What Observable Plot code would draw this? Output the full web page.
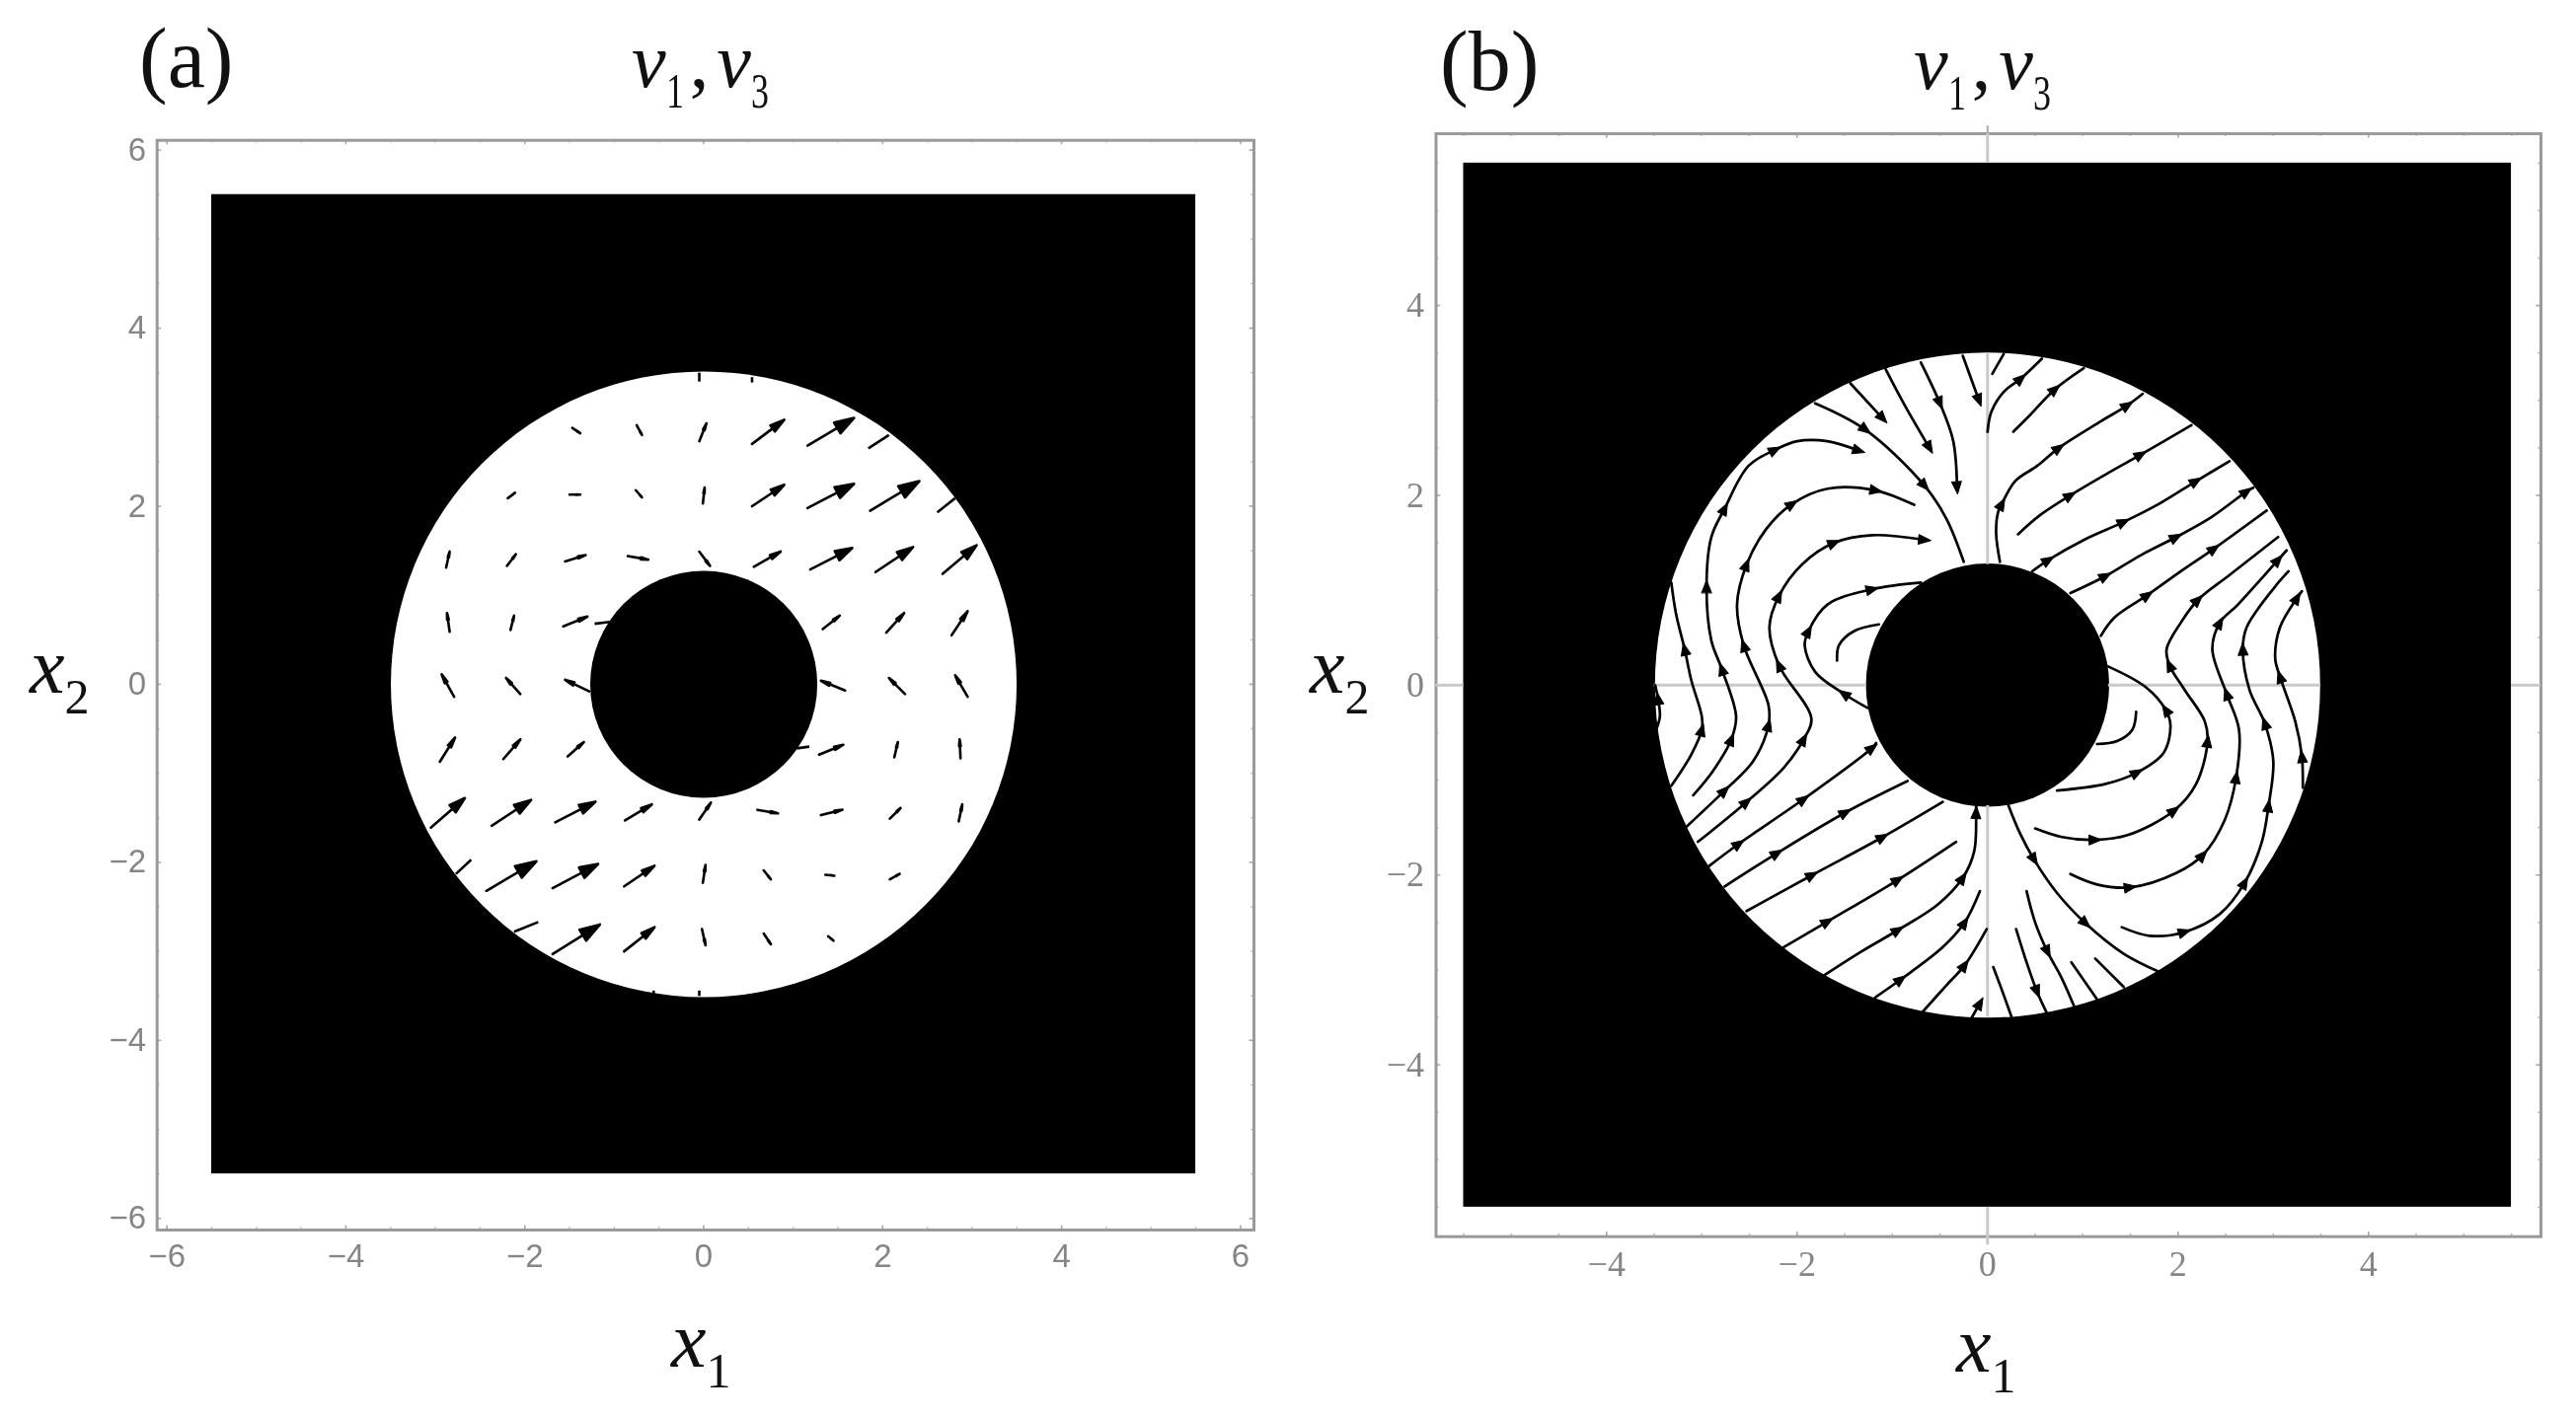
<!DOCTYPE html>
<html>
<head>
<meta charset="utf-8">
<script src="https://cdn.jsdelivr.net/npm/d3@7"></script>
<script src="https://cdn.jsdelivr.net/npm/@observablehq/plot@0.6"></script>
<style>
  html, body { margin: 0; padding: 0; background: #fff; }
  #page { position: relative; width: 2610px; height: 1437px; overflow: hidden; background: #fff; filter: blur(0.6px); }
  #page svg { position: absolute; top: 0; max-width: none; height: 1437px; background: transparent; }
  .t { position: absolute; font-family: "Liberation Serif", serif; line-height: 1; white-space: nowrap; color: #111; }
  .t i { font-style: italic; }
  .t span { font-size: 50px; vertical-align: -21px; }
  .t span.narrow { display: inline-block; width: 18px; transform: scaleX(0.72); transform-origin: left; }
  .t b { font-weight: 400; margin: 0 8px 0 6px; }
</style>
</head>
<body>
<div id="page"></div>
<script>
// ---------- shared values ----------
const squareHalf = 5.5;
const outerRadius = 3.5;
const innerRadius = 1.27;
const minorTicks = [-6,-5.5,-5,-4.5,-4,-3.5,-3,-2.5,-2,-1.5,-1,-0.5,0,0.5,1,1.5,2,2.5,3,3.5,4,4.5,5,5.5,6];
const ticksA = [-6,-4,-2,0,2,4,6];
const ticksB = [-4,-2,0,2,4];

// ---------- panel (a): arrows, [tailX, tailY, tipX, tipY] ----------
const arrowsA = [
  [-1.47,2.88,-1.38,2.82],[-0.75,2.91,-0.69,2.80],[-0.05,2.73,0.03,2.93],[0.54,2.70,0.90,2.97],[1.16,2.68,1.68,2.99],
  [-2.19,2.09,-2.11,2.15],[-1.50,2.13,-1.38,2.13],[-0.76,2.18,-0.69,2.10],[-0.01,2.03,0.01,2.21],[0.54,2.00,0.90,2.24],[1.16,1.98,1.68,2.25],[1.86,1.95,2.41,2.28],
  [-2.88,1.31,-2.84,1.49],[-2.20,1.33,-2.10,1.46],[-1.55,1.38,-1.32,1.45],[-0.85,1.44,-0.62,1.40],[-0.05,1.49,0.07,1.33],[0.56,1.32,0.86,1.49],[1.19,1.29,1.66,1.53],[1.92,1.26,2.34,1.54],[2.67,1.24,3.05,1.56],
  [-2.84,0.59,-2.87,0.80],[-2.16,0.61,-2.12,0.77],[-1.57,0.65,-1.30,0.76],[1.33,0.62,1.52,0.77],[2.04,0.58,2.24,0.80],[2.77,0.55,2.95,0.82],
  [-2.79,-0.14,-2.93,0.11],[-2.05,-0.11,-2.21,0.07],[-1.28,-0.08,-1.55,0.05],[1.58,-0.07,1.31,0.04],[2.25,-0.11,2.07,0.07],[2.95,-0.14,2.81,0.10],
  [-2.95,-0.87,-2.78,-0.60],[-2.24,-0.84,-2.05,-0.62],[-1.52,-0.81,-1.34,-0.65],[1.29,-0.79,1.56,-0.68],[2.13,-0.82,2.17,-0.65],[2.87,-0.83,2.86,-0.62],
  [-3.05,-1.61,-2.67,-1.28],[-2.37,-1.59,-1.93,-1.30],[-1.66,-1.55,-1.21,-1.32],[-0.88,-1.53,-0.58,-1.35],[-0.05,-1.52,0.08,-1.33],[0.60,-1.41,0.83,-1.45],[1.31,-1.47,1.55,-1.41],[2.08,-1.51,2.20,-1.39],[2.85,-1.54,2.89,-1.35],
  [-2.43,-2.32,-1.87,-1.99],[-1.69,-2.29,-1.18,-2.02],[-0.89,-2.27,-0.55,-2.04],[-0.01,-2.23,0.02,-2.03],[0.67,-2.09,0.75,-2.19],[1.36,-2.14,1.46,-2.15],[2.08,-2.19,2.19,-2.13],
  [-1.69,-3.03,-1.16,-2.70],[-0.89,-3.00,-0.55,-2.73],[-0.02,-2.75,0.02,-2.93],[0.67,-2.80,0.75,-2.92],[1.39,-2.83,1.45,-2.88]
];
// arrows cut by the black region: only the shaft shows
const cutArrowsA = [
  [1.84,2.65,2.07,2.80],[2.61,1.93,2.81,2.09],[-1.22,0.68,-1.05,0.70],[1.04,-0.72,1.18,-0.70],
  [-2.77,-2.13,-2.60,-1.97],[-2.12,-2.78,-1.85,-2.67],
  [-0.05,3.40,-0.05,3.50],[0.54,3.39,0.54,3.45],[-0.56,-3.44,-0.56,-3.49],[-0.05,-3.44,-0.05,-3.50]
];

// ---------- panel (b): streamlines, points in flow order, third value 1 marks an arrowhead ----------
const streamlines = [
  [[0.05,3.28],[0.17,3.49]],
  [[0,2.67],[0.04,2.88],[0.17,3.09],[0.35,3.23,1],[0.57,3.44]],
  [[0.27,2.67],[0.45,2.85],[0.71,3.12,1],[1.01,3.34]],
  [[0.13,1.30],[0.09,1.60],[0.11,1.82],[0.15,1.91,1],[0.29,2.15],[0.52,2.31],[0.75,2.50,1],[1.19,2.78],[1.47,2.95,1],[1.63,3.07]],
  [[0.32,1.59],[0.55,1.79],[0.87,2.00,1],[1.24,2.22],[1.61,2.43,1],[2.14,2.74]],
  [[0.47,1.20],[0.64,1.32,1],[1.01,1.53],[1.43,1.72,1],[1.80,1.91],[2.19,2.15,1],[2.54,2.36]],
  [[0.87,0.97],[1.24,1.15,1],[1.61,1.37],[1.98,1.56,1],[2.35,1.77],[2.72,2.04,1],[2.79,2.08]],
  [[1.19,0.52],[1.33,0.71],[1.68,0.95,1],[2.03,1.20],[2.38,1.44,1],[2.93,1.84]],
  [[0.73,-1.11],[1.24,-1.04],[1.57,-0.92,1],[1.85,-0.71],[1.92,-0.42],[1.87,-0.26,1],[1.66,-0.02],[1.26,0.20]],
  [[1.15,-0.62],[1.36,-0.59],[1.52,-0.47],[1.56,-0.28]],
  [[0.50,-1.51],[0.78,-1.60],[1.13,-1.63,1],[1.47,-1.58],[1.96,-1.32,1],[2.19,-1.04],[2.31,-0.59,1],[2.28,-0.38],[2.07,-0.05],[1.91,0.21,1],[1.88,0.38],[2.03,0.66],[2.21,0.90,1],[2.54,1.16],[3.05,1.56]],
  [[0.87,-1.99],[1.15,-2.10],[1.50,-2.13,1],[1.98,-1.98],[2.26,-1.79,1],[2.49,-1.42],[2.61,-0.97,1],[2.64,-0.47],[2.51,-0.09,1],[2.36,0.38],[2.44,0.66,1],[2.63,0.85],[3.05,1.32,1],[3.14,1.42]],
  [[1.41,-2.55],[1.70,-2.64],[2.07,-2.60,1],[2.44,-2.41],[2.70,-2.08,1],[2.88,-1.65],[2.95,-1.27,1],[3.00,-0.80],[2.91,-0.40,1],[2.75,-0.05],[2.68,0.38,1],[2.72,0.61],[3.02,1.04],[3.16,1.20]],
  [[3.31,-1.08],[3.30,-0.75,1],[3.23,-0.38],[3.07,0.09,1],[3.02,0.28],[3.07,0.61],[3.25,0.92,1],[3.30,0.99]],
  [[0.22,-1.27],[0.34,-1.56],[0.49,-1.84,1],[0.73,-2.19],[1.03,-2.51,1],[1.43,-2.83],[1.80,-3.02]],
  [[0.41,-2.17],[0.50,-2.50],[0.63,-2.81,1],[0.78,-3.09],[0.92,-3.41]],
  [[0.30,-2.57],[0.41,-2.92],[0.52,-3.23,1],[0.62,-3.45]],
  [[0.06,-2.97],[0.15,-3.21],[0.25,-3.49]],
  [[0.88,-2.92],[1.15,-3.31]],
  [[1.13,-2.88],[1.43,-3.18]],
  [[-0.68,-3.44],[-0.43,-3.16],[-0.24,-2.95,1],[-0.01,-2.57]],
  [[-1.18,-3.29],[-0.91,-3.10,1],[-0.47,-2.76],[-0.24,-2.50,1],[-0.08,-2.17]],
  [[-1.72,-3.06],[-1.33,-2.81],[-0.94,-2.58,1],[-0.52,-2.31],[-0.26,-2.03,1],[-0.14,-1.75],[-0.12,-1.34,1],[-0.12,-1.28]],
  [[-2.14,-2.76],[-1.68,-2.49,1],[-0.94,-2.05,1],[-0.33,-1.65]],
  [[-2.53,-2.38],[-1.84,-2.00,1],[-1.10,-1.60,1],[-0.47,-1.23]],
  [[-2.76,-2.12],[-2.21,-1.77,1],[-1.49,-1.34,1],[-0.84,-1.01]],
  [[-2.93,-1.91],[-2.61,-1.67,1],[-1.93,-1.20,1],[-1.21,-0.66,1],[-1.17,-0.61]],
  [[-3.32,-1.06],[-3.11,-0.73],[-3.00,-0.47,1],[-3.00,-0.33],[-3.11,0.05],[-3.18,0.38,1],[-3.27,0.75],[-3.32,1.08]],
  [[-3.09,-1.16],[-2.88,-0.90],[-2.69,-0.57,1],[-2.64,-0.33],[-2.79,0.17,1],[-2.90,0.47],[-2.95,1.04,1],[-2.90,1.56],[-2.76,1.86,1],[-2.51,2.31],[-2.23,2.48,1],[-2.00,2.57],[-1.68,2.57],[-1.35,2.47,1]],
  [[-3.16,-1.49],[-2.76,-1.11,1],[-2.46,-0.80],[-2.30,-0.42,1],[-2.30,-0.21],[-2.56,0.42,1],[-2.63,0.85],[-2.53,1.27,1],[-2.32,1.65],[-2.05,1.91,1],[-1.68,2.07],[-1.17,2.05,1],[-0.77,1.90]],
  [[-3.04,-1.65],[-2.53,-1.23,1],[-2.14,-0.87],[-1.93,-0.57,1],[-1.85,-0.35],[-2.19,0.21,1],[-2.29,0.61],[-2.19,0.94,1],[-1.95,1.27],[-1.61,1.50,1],[-1.21,1.58],[-0.66,1.53,1]],
  [[-1.26,-0.24],[-1.51,-0.09,1],[-1.81,0.14],[-1.92,0.42],[-1.88,0.57,1],[-1.68,0.85],[-1.21,1.01,1],[-0.70,1.08]],
  [[-1.58,0.26],[-1.56,0.42],[-1.40,0.57],[-1.14,0.64]],
  [[-1.81,2.97],[-1.28,2.69,1],[-0.66,2.10,1],[-0.43,1.75],[-0.25,1.30]],
  [[-1.44,3.18],[-1.10,2.81,1]],
  [[-1.07,3.33],[-0.87,2.95],[-0.61,2.50,1]],
  [[-0.70,3.40],[-0.50,2.97,1],[-0.36,2.57],[-0.32,2.08,1]],
  [[-0.26,3.47],[-0.09,3.00,1]],
  [[-0.17,-3.51],[-0.08,-3.35,1]],
  [[-3.48,-0.47],[-3.44,-0.33],[-3.46,-0.14,1],[-3.49,0]]
];
// zero gridline pieces of panel (b), as [from, to] along the axis
const gridPieces = [[-5.9,-5.5],[-3.5,-1.27],[1.27,3.5],[5.5,5.81]];
const gridPiecesH = [[-5.79,-5.5],[-3.5,-1.27],[1.27,3.5],[5.5,5.81]];

// ---------- derived tables ----------
const angle = ([x1,y1,x2,y2]) => Math.atan2(x2 - x1, y2 - y1) * 180 / Math.PI;
const streamPts = streamlines.flatMap((line, id) => line.map(([x, y]) => ({x, y, id})));
const streamHeads = streamlines.flatMap((line) => line.flatMap((p, i) => {
  if (p[2] !== 1) return [];
  const a = line[Math.max(0, i - 1)], b = line[Math.min(line.length - 1, i + 1)];
  return [{x: p[0], y: p[1], rotate: angle([a[0], a[1], b[0], b[1]])}];
}));

const arrowShape = {
  draw(ctx, l) {
    const h = l * 0.36, w = l * 0.115 * Math.min(1, l / 50);
    ctx.moveTo(0, 0); ctx.lineTo(0, -l);
    ctx.moveTo(-w, h - l); ctx.lineTo(0, -l); ctx.lineTo(w, h - l); ctx.closePath();
  }
};
const headShape = {
  draw(ctx, l) {
    const w = l * 0.4;
    ctx.moveTo(-w, 0); ctx.lineTo(0, -l); ctx.lineTo(w, 0); ctx.closePath();
  }
};

// ---------- common frame marks ----------
function frameMarks(x0, x1, y0, y1, color, major, fontSize, tickPadX, tickPadY) {
  const tick = 0.05, minor = 0.03;
  return [
    Plot.ruleX(minorTicks.filter(d => d > x0 && d < x1), {y1: y0, y2: y0 + minor, stroke: "#bbb", strokeWidth: 1.5}),
    Plot.ruleX(minorTicks.filter(d => d > x0 && d < x1), {y1: y1, y2: y1 - minor, stroke: "#bbb", strokeWidth: 1.5}),
    Plot.ruleY(minorTicks.filter(d => d > y0 && d < y1), {x1: x0, x2: x0 + minor, stroke: "#bbb", strokeWidth: 1.5}),
    Plot.ruleY(minorTicks.filter(d => d > y0 && d < y1), {x1: x1, x2: x1 - minor, stroke: "#bbb", strokeWidth: 1.5}),
    Plot.ruleX(major, {y1: y0, y2: y0 + tick, stroke: "#aaa", strokeWidth: 1.5}),
    Plot.ruleX(major, {y1: y1, y2: y1 - tick, stroke: "#aaa", strokeWidth: 1.5}),
    Plot.ruleY(major, {x1: x0, x2: x0 + tick, stroke: "#aaa", strokeWidth: 1.5}),
    Plot.ruleY(major, {x1: x1, x2: x1 - tick, stroke: "#aaa", strokeWidth: 1.5}),
    Plot.frame({stroke: "#9a9a9a", strokeWidth: 3}),
    Plot.axisX({anchor: "bottom", ticks: major, tickSize: 0, tickPadding: tickPadX, fontSize, color, label: null, fontWeight: 400}),
    Plot.axisY({anchor: "left", ticks: major, tickSize: 0, tickPadding: tickPadY, fontSize, color, label: null, fontWeight: 400})
  ];
}
const disc = (radius, fill) => Plot.dot([radius], {x: () => 0, y: () => 0, r: d => d, fill, stroke: null});
const square = Plot.rect([squareHalf], {x1: d => -d, x2: d => d, y1: d => -d, y2: d => d, fill: "#000"});

// ---------- panel (a) ----------
const xDomA = [-6.11, 6.15], yDomA = [-6.13, 6.11];
const plotA = Plot.plot({
  width: 1305, height: 1437,
  marginLeft: 158.7, marginRight: 35, marginTop: 141.7, marginBottom: 191,
  x: {domain: xDomA, axis: null},
  y: {domain: yDomA, axis: null},
  r: {type: "linear", domain: [0, outerRadius], range: [0, 317]},
  length: {type: "linear", domain: [0, 1], range: [0, 90.6]},
  style: {fontFamily: "'Liberation Sans', sans-serif", background: "transparent"},
  marks: [
    ...frameMarks(xDomA[0], xDomA[1], yDomA[0], yDomA[1], "#858585", ticksA, 33, 14, 11),
    square,
    disc(outerRadius, "#fff"),
    disc(innerRadius, "#000"),
    Plot.link(cutArrowsA, {x1: d => d[0], y1: d => d[1], x2: d => d[2], y2: d => d[3], stroke: "#000", strokeWidth: 2.6}),
    Plot.vector(arrowsA, {
      x: d => d[0], y: d => d[1], anchor: "start",
      length: d => Math.hypot(d[2] - d[0], d[3] - d[1]),
      rotate: angle, shape: arrowShape,
      stroke: "#000", fill: "#000", strokeWidth: 2.6
    })
  ]
});

// ---------- panel (b) ----------
const xDomB = [-5.79, 5.81], yDomB = [-5.81, 5.81];
const plotB = Plot.plot({
  width: 1305, height: 1437,
  marginLeft: 149.5, marginRight: 36, marginTop: 135, marginBottom: 184.3,
  x: {domain: xDomB, axis: null},
  y: {domain: yDomB, axis: null},
  r: {type: "linear", domain: [0, outerRadius], range: [0, 337]},
  style: {fontFamily: "'Liberation Serif', serif", background: "transparent"},
  marks: [
    ...frameMarks(xDomB[0], xDomB[1], yDomB[0], yDomB[1], "#858585", ticksB, 36, 14, 12),
    square,
    disc(outerRadius, "#fff"),
    disc(1.28, "#000"),
    Plot.ruleX(gridPieces, {x: () => 0, y1: d => d[0], y2: d => d[1], stroke: "#c9c9c9", strokeWidth: 3}),
    Plot.ruleY(gridPiecesH, {y: () => 0, x1: d => d[0], x2: d => d[1], stroke: "#c9c9c9", strokeWidth: 3}),
    Plot.ruleX([0], {y1: 5.81, y2: 5.89, stroke: "#aaa", strokeWidth: 2}),
    Plot.line(streamPts, {x: "x", y: "y", z: "id", curve: "catmull-rom", stroke: "#000", strokeWidth: 2.7}),
    Plot.vector(streamHeads, {
      x: "x", y: "y", anchor: "middle", length: 12.5, rotate: "rotate",
      shape: headShape, stroke: "#000", strokeWidth: 1, fill: "#000"
    })
  ]
});
plotB.style.left = "1305px";
plotA.style.left = "0px";

const page = document.getElementById("page");
page.append(plotA, plotB);

// ---------- text ----------
const title = '<i>v</i><span class="narrow">1</span><b>,</b><i>v</i><span class="narrow">3</span>';
const labels = [
  {html: "(a)", x: 141, y: 16, size: 86},
  {html: "(b)", x: 1459, y: 19, size: 86},
  {html: title, x: 640, y: 23, size: 78},
  {html: title, x: 1939, y: 25, size: 78},
  {html: "<i>x</i><span>1</span>", x: 680, y: 1318, size: 80},
  {html: "<i>x</i><span>1</span>", x: 1982, y: 1323, size: 80},
  {html: "<i>x</i><span>2</span>", x: 30, y: 635, size: 80},
  {html: "<i>x</i><span>2</span>", x: 1327, y: 635, size: 80}
];
for (const l of labels) {
  const d = document.createElement("div");
  d.className = "t";
  d.innerHTML = l.html;
  d.style.left = l.x + "px";
  d.style.top = l.y + "px";
  d.style.fontSize = l.size + "px";
  page.append(d);
}
</script>
</body>
</html>
